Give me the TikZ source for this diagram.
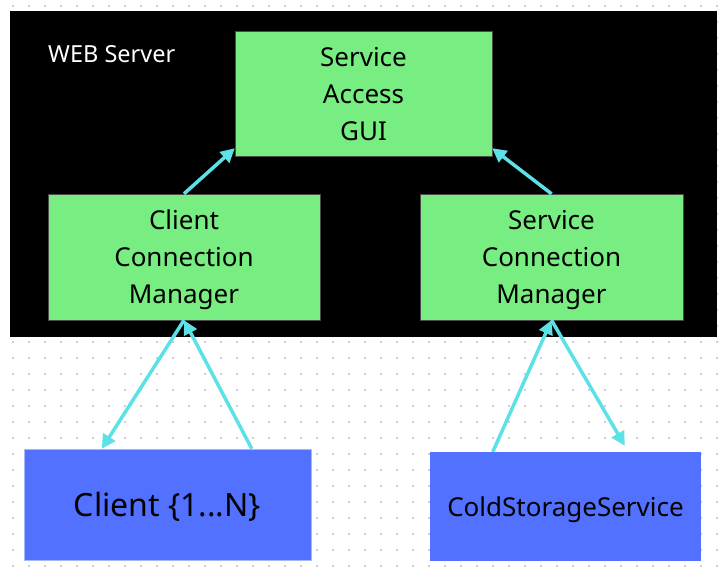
\documentclass[tikz,border=0pt]{standalone}
\usepackage{fontspec}
\setmainfont{Noto Sans}
\usetikzlibrary{arrows.meta}
\definecolor{modgreen}{HTML}{78EE82}
\definecolor{actorblue}{HTML}{5271FF}
\definecolor{actorline}{HTML}{A8B6FF}
\definecolor{linkcyan}{HTML}{5CE1E6}
\definecolor{dotgray}{HTML}{CDCDD6}

\begin{document}
\begin{tikzpicture}[x=1pt,y=-1pt,>={Triangle[length=14pt,width=14pt]},line join=round]

  \tikzstyle{module}=[rectangle,fill=modgreen,draw=black!70,thin,align=center,
                      font=\fontsize{26}{37}\selectfont,inner sep=0pt,text depth=0pt]
  \tikzstyle{actor}=[rectangle,fill=actorblue,align=center,inner sep=0pt,text depth=0pt]
  \tikzstyle{link}=[->,line width=3.5pt,draw=linkcyan,fill=linkcyan]

  \useasboundingbox (0,0) rectangle (726,573);

  % dotted canvas
  \foreach \i in {0,...,44}
    \foreach \j in {0,...,35}
      \fill [dotgray] (12+16*\i,5+16*\j) rectangle +(2,2);

  % web server frame
  \fill [black] (10,11) rectangle (717,337);
  \node [text=white,anchor=west,inner sep=0pt,font=\fontsize{23.5}{28}\selectfont]
        (web) at (48,54) {WEB Server};

  \node [module,minimum width=257pt,minimum height=125pt]
        (gui) at (363.5,93.5) {Service\\Access\\GUI};
  \node [module,minimum width=272pt,minimum height=126pt]
        (ccm) at (184,257)    {Client\\Connection\\Manager};
  \node [module,minimum width=263pt,minimum height=126pt]
        (scm) at (551.5,257)  {Service\\Connection\\Manager};

  % outside
  \node [actor,draw=actorline,minimum width=287pt,minimum height=111pt,
         font=\fontsize{32}{38}\selectfont]
        (client) at (167.5,504.5) {Client \{1...N\}};
  \node [actor,minimum width=271pt,minimum height=109pt,
         font=\fontsize{26}{31}\selectfont]
        (css) at (565.5,506.5) {ColdStorageService};

  \draw [link] (ccm.north) -- ([yshift=8pt]gui.south west);
  \draw [link] (scm.north) -- ([yshift=8pt]gui.south east);
  \draw [link] (ccm.south) -- ([xshift=78pt]client.north west);
  \draw [link] ([xshift=228pt]client.north west) -- (ccm.south);
  \draw [link] ([xshift=63pt]css.north west) -- (scm.south);
  \draw [link] (scm.south) -- ([xshift=195pt,yshift=6pt]css.north west);
\end{tikzpicture}
\end{document}
